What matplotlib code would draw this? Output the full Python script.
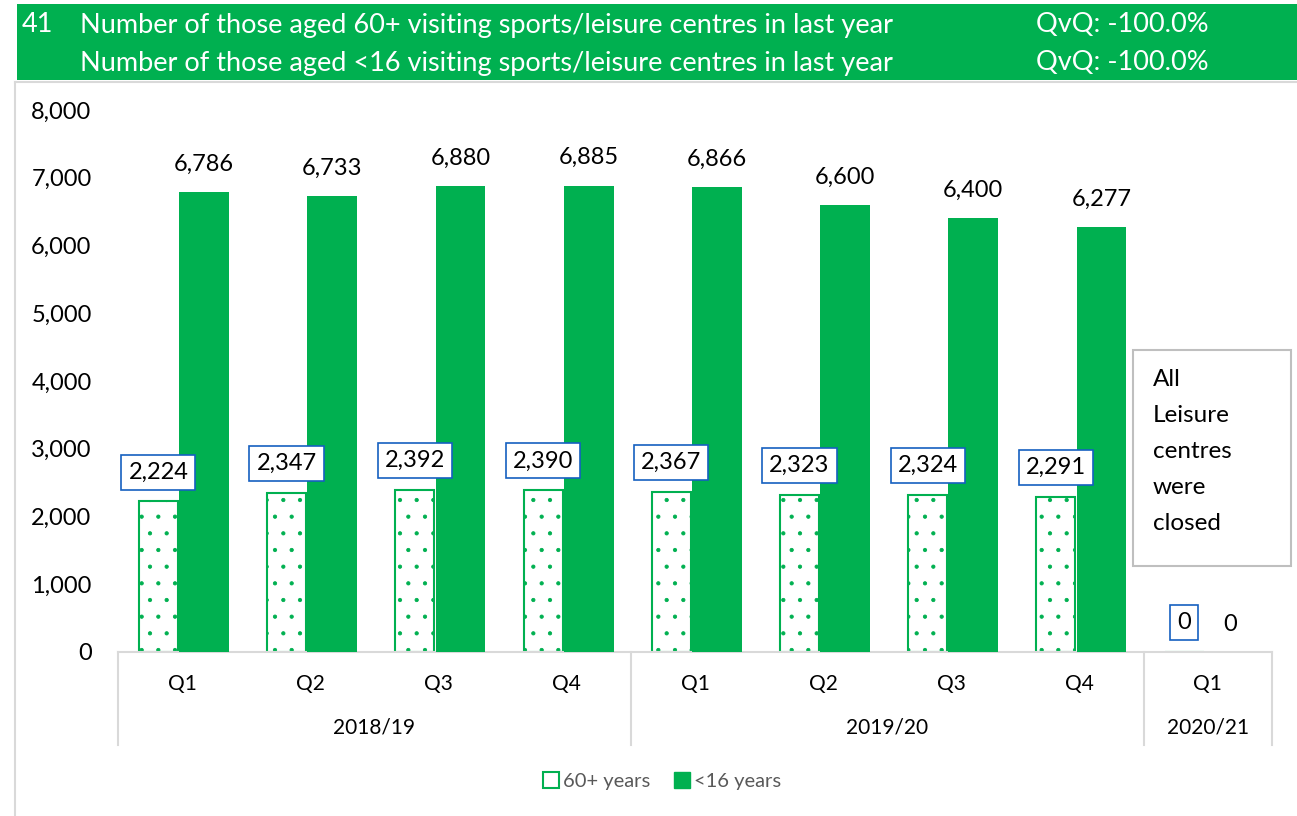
import matplotlib
matplotlib.use("Agg")
import matplotlib.pyplot as plt
import matplotlib.transforms as mtransforms
from matplotlib.patches import Rectangle, Patch
from matplotlib.lines import Line2D

# ---- data ----
quarters = ["Q1", "Q2", "Q3", "Q4", "Q1", "Q2", "Q3", "Q4", "Q1"]
years = ["2018/19", "2019/20", "2020/21"]
year_spans = [(0, 3), (4, 7), (8, 8)]
aged_60_plus = [2224, 2347, 2392, 2390, 2367, 2323, 2324, 2291, 0]
aged_under_16 = [6786, 6733, 6880, 6885, 6866, 6600, 6400, 6277, 0]
series_names = ["60+ years", "<16 years"]
title_lines = [
    "Number of those aged 60+ visiting sports/leisure centres in last year",
    "Number of those aged <16 visiting sports/leisure centres in last year",
]
qvq_text = ["QvQ: -100.0%", "QvQ: -100.0%"]
chart_number = "41"
closed_note = "All\nLeisure\ncentres\nwere\nclosed"
y_ticks = [0, 1000, 2000, 3000, 4000, 5000, 6000, 7000, 8000]

GREEN = "#00B050"
BLUE = "#1560C0"
GRID_GREY = "#D9D9D9"
FONT = ["Lato", "DejaVu Sans"]

plt.rcParams["font.family"] = FONT
plt.rcParams["hatch.linewidth"] = 0.6

W, H = 1297, 816
fig = plt.figure(figsize=(W / 100, H / 100), dpi=100)


def fx(px):
    return px / W


def fy(py):
    return 1 - py / H


# ---- header band ----
fig.patches.append(Rectangle((fx(17), fy(80)), 1 - fx(17), fy(4) - fy(80),
                             transform=fig.transFigure, facecolor=GREEN,
                             edgecolor="none", zorder=0))
fig.add_artist(Line2D([fx(15), 1], [fy(81.5), fy(81.5)], color=GRID_GREY, lw=1.5))
fig.add_artist(Line2D([fx(15), fx(15)], [fy(81.5), 0], color=GRID_GREY, lw=1.5))

fig.text(fx(22), fy(25), chart_number, color="white", fontsize=19.5,
         ha="left", va="center")
for i, (line, q) in enumerate(zip(title_lines, qvq_text)):
    yy = fy(25 + 38 * i)
    fig.text(fx(80), yy, line, color="white", fontsize=19.5, ha="left", va="center")
    fig.text(fx(1036), yy, q, color="white", fontsize=19.5, ha="left", va="center")

# ---- axes ----
ax = fig.add_axes([fx(118), fy(652), fx(1272) - fx(118), fy(110) - fy(652)])
n = len(quarters)
xs = list(range(n))
off_60, w_60 = -0.185, 0.305
off_16, w_16 = 0.171, 0.388

ax.bar([x + off_60 for x in xs], aged_60_plus, width=w_60, facecolor="white",
       edgecolor=GREEN, linewidth=1.5, hatch=".", zorder=2)
ax.bar([x + off_16 for x in xs], aged_under_16, width=w_16, color=GREEN,
       linewidth=0, zorder=3)

ax.set_xlim(-0.5, n - 0.5)
ax.set_ylim(0, 8000)
ax.set_yticks(y_ticks)
ax.set_yticklabels([f"{v:,}" for v in y_ticks], fontsize=17)
ax.tick_params(axis="y", length=0, pad=19)
ax.set_xticks([])
for side in ["left", "right", "top"]:
    ax.spines[side].set_visible(False)
ax.spines["bottom"].set_color(GRID_GREY)
ax.spines["bottom"].set_linewidth(1.5)

# value labels
for x, v in zip(xs, aged_60_plus):
    ax.annotate(f"{v:,}", xy=(x + off_60, v), xytext=(0, 21),
                textcoords="offset points", ha="center", va="center",
                fontsize=17, zorder=5,
                bbox=dict(boxstyle="square,pad=0.3", facecolor="white",
                          edgecolor=BLUE, linewidth=1.2))
for x, v in zip(xs, aged_under_16):
    ax.annotate(f"{v:,}", xy=(x + off_16, v), xytext=(0, 20),
                textcoords="offset points", ha="center", va="center",
                fontsize=17, zorder=5)

# multi-level category axis
trans = mtransforms.blended_transform_factory(ax.transData, ax.transAxes)
sep_bottom = -(745 - 652) / 542
for x, q in zip(xs, quarters):
    ax.text(x, -(684 - 652) / 542, q, transform=trans, ha="center",
            va="center", fontsize=15)
for (a, b), yr in zip(year_spans, years):
    ax.text((a + b) / 2, -(728 - 652) / 542, yr, transform=trans,
            ha="center", va="center", fontsize=15)
for xb in [-0.5, 3.5, 7.5, 8.5]:
    ax.plot([xb, xb], [0, sep_bottom], transform=trans, color=GRID_GREY,
            lw=1.5, clip_on=False)

# note box
fig.patches.append(Rectangle((fx(1133), fy(566)), fx(1291) - fx(1133),
                             fy(350) - fy(566), transform=fig.transFigure,
                             facecolor="white", edgecolor="#BFBFBF", lw=1.5,
                             zorder=4))
fig.text(fx(1153), fy(369), closed_note, fontsize=17.5, ha="left", va="top",
         linespacing=1.88, zorder=5)

# legend
handles = [Patch(facecolor="white", edgecolor=GREEN, linewidth=1.5),
           Patch(facecolor=GREEN, edgecolor=GREEN)]
leg = fig.legend(handles, series_names, loc="center",
                 bbox_to_anchor=(fx(662), fy(781)), ncol=2, frameon=False,
                 fontsize=14.5, handlelength=0.8, handleheight=0.8,
                 handletextpad=0.2, columnspacing=1.2)
for t in leg.get_texts():
    t.set_color("#595959")

fig.savefig("out.png", dpi=100)
